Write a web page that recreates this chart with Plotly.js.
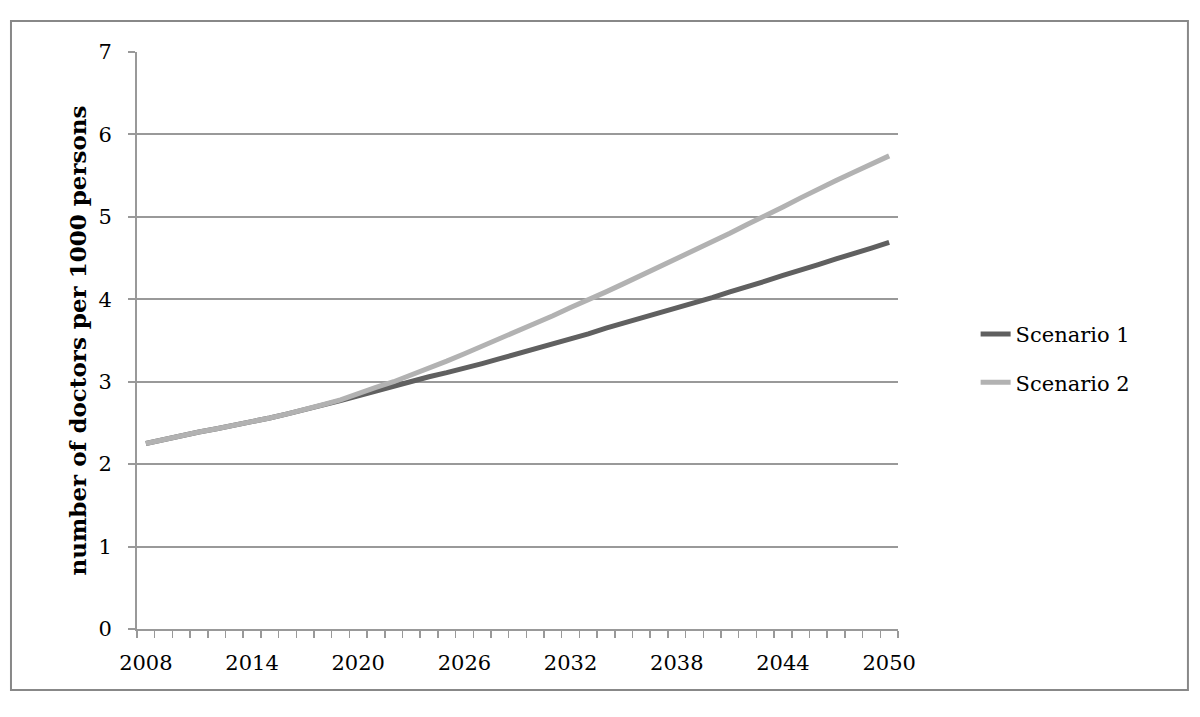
<!DOCTYPE html>
<html>
<head>
<meta charset="utf-8">
<script src="https://cdn.plot.ly/plotly-3.0.1.min.js"></script>
<style>html,body{margin:0;padding:0;background:#fff;}#chart{width:1200px;height:717px;}</style>
</head>
<body>
<div id="chart"></div>
<script>
const years = [2008,2009,2010,2011,2012,2013,2014,2015,2016,2017,2018,2019,2020,2021,2022,2023,2024,2025,2026,2027,2028,2029,2030,2031,2032,2033,2034,2035,2036,2037,2038,2039,2040,2041,2042,2043,2044,2045,2046,2047,2048,2049,2050];
const scenario1 = [2.25,2.30,2.35,2.39,2.43,2.47,2.51,2.56,2.61,2.66,2.72,2.77,2.83,2.89,2.94,3.00,3.06,3.11,3.16,3.22,3.28,3.34,3.39,3.45,3.52,3.58,3.65,3.71,3.77,3.84,3.90,3.96,4.02,4.09,4.15,4.22,4.29,4.35,4.42,4.49,4.55,4.62,4.69];
const scenario2 = [2.25,2.30,2.35,2.39,2.43,2.47,2.51,2.56,2.61,2.66,2.72,2.78,2.86,2.93,3.00,3.08,3.16,3.25,3.34,3.43,3.52,3.61,3.71,3.80,3.90,3.99,4.09,4.19,4.29,4.39,4.49,4.59,4.70,4.80,4.91,5.01,5.12,5.23,5.34,5.44,5.54,5.64,5.74];
const xTickLabels = [2008,2014,2020,2026,2032,2038,2044,2050];
const yTicks = [0,1,2,3,4,5,6,7];

const font = "'DejaVu Serif', 'Liberation Serif', serif";
const grid = '#999999';

const traces = [
  {x: years, y: scenario1, name: 'Scenario 1', type: 'scatter', mode: 'lines', legendgroup: 'a',
   line: {color: '#606060', width: 5}},
  {x: years, y: scenario2, name: 'Scenario 2', type: 'scatter', mode: 'lines', legendgroup: 'b',
   line: {color: '#b2b2b2', width: 5}}
];

const layout = {
  width: 1200, height: 717,
  margin: {l: 137, r: 302, t: 52, b: 88},
  paper_bgcolor: '#fff', plot_bgcolor: '#fff',
  font: {family: font, size: 21, color: '#000'},
  showlegend: true,
  legend: {x: 1.102, y: 0.469, xanchor: 'left', yanchor: 'middle', traceorder: 'grouped',
           font: {family: font, size: 21, color: '#000'}, tracegroupgap: 18,
           bgcolor: 'rgba(0,0,0,0)'},
  xaxis: {
    range: [2007.5, 2050.5], tickvals: xTickLabels, ticktext: xTickLabels.map(String),
    ticks: '', showgrid: false, zeroline: false,
    showline: true, linecolor: grid, linewidth: 2,
    tickfont: {family: font, size: 21}, ticklabelstandoff: 14,
    minor: {tick0: 2007.5, dtick: 1, ticks: 'outside', ticklen: 7, tickcolor: grid, tickwidth: 1.5, showgrid: false}
  },
  yaxis: {
    range: [0, 7], tickvals: yTicks, ticks: 'outside', ticklen: 7, tickcolor: grid, tickwidth: 2,
    showgrid: true, gridcolor: grid, gridwidth: 2, zeroline: false,
    showline: true, linecolor: grid, linewidth: 2,
    tickfont: {family: font, size: 21}, ticklabelstandoff: 12,
    title: {text: '<b>number of doctors per 1000 persons</b>', font: {family: font, size: 23}, standoff: 5}
  },
  shapes: [
    {type: 'rect', xref: 'paper', yref: 'paper', x0: -0.1656, x1: 1.381, y0: -0.1057, y1: 1.0537,
     line: {color: '#888', width: 2}, fillcolor: 'rgba(0,0,0,0)', layer: 'below'}
  ]
};

Plotly.newPlot('chart', traces, layout, {displayModeBar: false, staticPlot: true});
</script>
</body>
</html>
